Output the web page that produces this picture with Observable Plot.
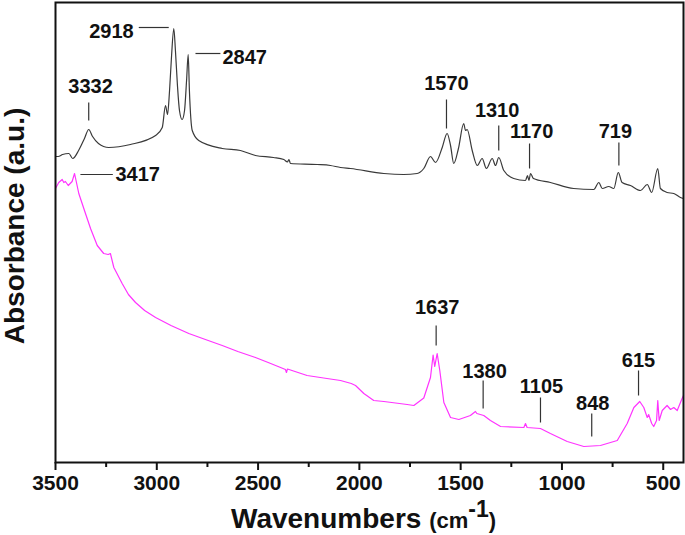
<!DOCTYPE html>
<html>
<head>
<meta charset="utf-8">
<script src="https://cdn.jsdelivr.net/npm/d3@7"></script>
<script src="https://cdn.jsdelivr.net/npm/@observablehq/plot@0.6"></script>
<style>
  html, body { margin: 0; padding: 0; background: #fff; }
  #chart { width: 685px; height: 535px; }
</style>
</head>
<body>
<div id="chart"></div>
<script>
// ---- Data ----
const blackWavenumber = [3500,3487,3465,3434,3415,3386,3357,3336,3317,3288,3237,3130,3006,2973,2957,2947,2937,2927,2916,2908,2898,2888,2875,2863,2853,2845,2839,2825,2793,2677,2587,2513,2424,2373,2355,2348,2340,2208,2143,2093,2044,1879,1781,1715,1682,1649,1624,1591,1567,1550,1534,1511,1485,1476,1468,1443,1418,1394,1373,1344,1328,1312,1287,1238,1180,1170,1163,1155,1141,1057,942,843,818,801,769,744,722,703,662,612,579,557,527,514,481,448,415,400];
const blackAbsorbance = [3.06,3.06,3.08,3.09,3.04,3.12,3.24,3.33,3.26,3.19,3.15,3.18,3.27,3.35,3.57,3.48,3.72,4.07,4.34,4.12,3.77,3.52,3.43,3.52,3.82,4.08,3.72,3.32,3.22,3.14,3.12,3.07,3.05,3.03,3.005,3.03,2.99,2.98,2.97,2.95,2.94,2.89,2.88,2.89,2.94,3.06,3.00,3.15,3.29,3.17,2.99,3.14,3.39,3.32,3.33,3.12,2.97,3.04,2.94,3.04,2.97,3.05,2.92,2.84,2.82,2.87,2.82,2.89,2.84,2.80,2.74,2.73,2.80,2.74,2.76,2.74,2.90,2.80,2.77,2.72,2.78,2.70,2.94,2.74,2.70,2.69,2.65,2.64];

const pinkWavenumber = [3500,3484,3467,3459,3451,3437,3418,3406,3385,3352,3327,3294,3262,3240,3229,3212,3171,3140,3105,3060,3006,2930,2842,2760,2677,2600,2513,2450,2389,2365,2360,2355,2258,2160,2093,2040,2019,1978,1929,1879,1764,1731,1682,1649,1636,1628,1616,1603,1583,1550,1509,1452,1427,1420,1386,1353,1303,1188,1180,1172,1106,1057,974,892,810,727,678,645,616,596,579,572,557,547,533,527,520,505,481,464,448,431,407,400];
const pinkAbsorbance = [2.74,2.80,2.83,2.80,2.81,2.77,2.81,2.89,2.69,2.49,2.34,2.17,2.09,2.08,2.09,1.95,1.79,1.68,1.60,1.52,1.45,1.37,1.29,1.23,1.17,1.11,1.05,1.00,0.95,0.93,0.90,0.935,0.87,0.84,0.82,0.79,0.77,0.69,0.62,0.61,0.58,0.57,0.645,0.85,1.075,0.96,1.09,0.92,0.60,0.45,0.43,0.47,0.51,0.49,0.47,0.42,0.36,0.35,0.39,0.35,0.34,0.29,0.21,0.16,0.17,0.22,0.39,0.55,0.61,0.55,0.45,0.48,0.39,0.36,0.42,0.62,0.42,0.52,0.57,0.53,0.55,0.52,0.64,0.67];

// Vertical leader-line peak labels
const vLabels   = ["3332","1570","1310","1170","719","1637","1380","1105","848","615"];
const vLineX    = [3336, 1570, 1312, 1160, 719, 1621, 1389, 1106, 853, 622];
const vLineTop  = [3.60, 3.63, 3.37, 3.19, 3.20, 1.37, 0.82, 0.65, 0.49, 0.92];
const vLineBot  = [3.42, 3.34, 3.12, 2.94, 2.97, 1.17, 0.54, 0.40, 0.26, 0.67];
const vLabelX   = [3327, 1570, 1320, 1150, 736, 1616, 1382, 1101, 848, 622];
const vLabelY   = [3.76, 3.79, 3.52, 3.31, 3.31, 1.55, 0.91, 0.76, 0.59, 1.02];

// Horizontal leader-line peak labels
const hLabels   = ["2918","2847","3417"];
const hLineX1   = [3089, 2809, 3377];
const hLineX2   = [2941, 2686, 3217];
const hLineY    = [4.35, 4.09, 2.88];
const hLabelX   = [3114, 2676, 3204];
const hLabelY   = [4.31, 4.05, 2.88];
const hAnchor   = ["end","start","start"];

const majorTicks = [3500,3000,2500,2000,1500,1000,500];
const minorTicks = [3250,2750,2250,1750,1250,750];

// ---- Tables built from the arrays ----
const black = blackWavenumber.map((w, i) => ({w, a: blackAbsorbance[i]}));
const pink = pinkWavenumber.map((w, i) => ({w, a: pinkAbsorbance[i]}));
const vAnn = vLabels.map((t, i) => ({t, x: vLineX[i], y1: vLineBot[i], y2: vLineTop[i], lx: vLabelX[i], ly: vLabelY[i]}));
const hAnn = hLabels.map((t, i) => ({t, x1: hLineX1[i], x2: hLineX2[i], y: hLineY[i], lx: hLabelX[i], ly: hLabelY[i], anchor: hAnchor[i]}));

const FONT = "'Liberation Sans', Arial, Helvetica, sans-serif";

const plot = Plot.plot({
  width: 685,
  height: 535,
  marginLeft: 55,
  marginRight: 2,
  marginTop: 2,
  marginBottom: 73,
  style: {fontFamily: FONT, fontSize: "20px", fontWeight: "bold", color: "#111", background: "#fff"},
  x: {domain: [3500, 400], label: null},
  y: {domain: [0, 4.6], axis: null},
  marks: [
    Plot.line(black, {x: "w", y: "a", stroke: "#3a3a3a", strokeWidth: 1.2, curve: "monotone-x"}),
    Plot.line(pink, {x: "w", y: "a", stroke: "#ff33ff", strokeWidth: 1.2}),
    Plot.link(vAnn, {x1: "x", x2: "x", y1: "y1", y2: "y2", stroke: "#333", strokeWidth: 1.2}),
    Plot.link(hAnn, {x1: "x1", x2: "x2", y1: "y", y2: "y", stroke: "#333", strokeWidth: 1.2}),
    Plot.text(vAnn, {x: "lx", y: "ly", text: "t", fontSize: 20, fontWeight: "bold", fill: "#111", textAnchor: "middle"}),
    Plot.text(hAnn.filter(d => d.anchor === "end"), {x: "lx", y: "ly", text: "t", fontSize: 20, fontWeight: "bold", fill: "#111", textAnchor: "end"}),
    Plot.text(hAnn.filter(d => d.anchor === "start"), {x: "lx", y: "ly", text: "t", fontSize: 20, fontWeight: "bold", fill: "#111", textAnchor: "start"}),
    Plot.axisX({ticks: majorTicks, tickSize: 8, tickPadding: 5, strokeWidth: 2, stroke: "#111", tickFormat: d => String(d), fontSize: 21, fontWeight: "bold", fill: "#111"}),
    Plot.axisX({ticks: minorTicks, tickSize: 5, strokeWidth: 2, stroke: "#111", tickFormat: () => ""}),
    Plot.frame({stroke: "#111", strokeWidth: 2})
  ]
});

document.getElementById("chart").appendChild(plot);

// Axis titles (with superscript)
const svg = d3.select(plot);
const xl = svg.append("text")
  .attr("x", 231).attr("y", 528)
  .attr("text-anchor", "start")
  .style("font-family", FONT).style("font-weight", "bold").style("fill", "#111");
xl.append("tspan").style("font-size", "28px").text("Wavenumbers ");
xl.append("tspan").style("font-size", "22px").text("(cm");
xl.append("tspan").style("font-size", "23px").attr("dy", -11).text("-1");
xl.append("tspan").style("font-size", "22px").attr("dy", 11).text(")");

svg.append("text")
  .attr("transform", "translate(24,226) rotate(-90)")
  .attr("text-anchor", "middle")
  .style("font-family", FONT).style("font-weight", "bold").style("font-size", "28px").style("fill", "#111")
  .text("Absorbance (a.u.)");
</script>
</body>
</html>
